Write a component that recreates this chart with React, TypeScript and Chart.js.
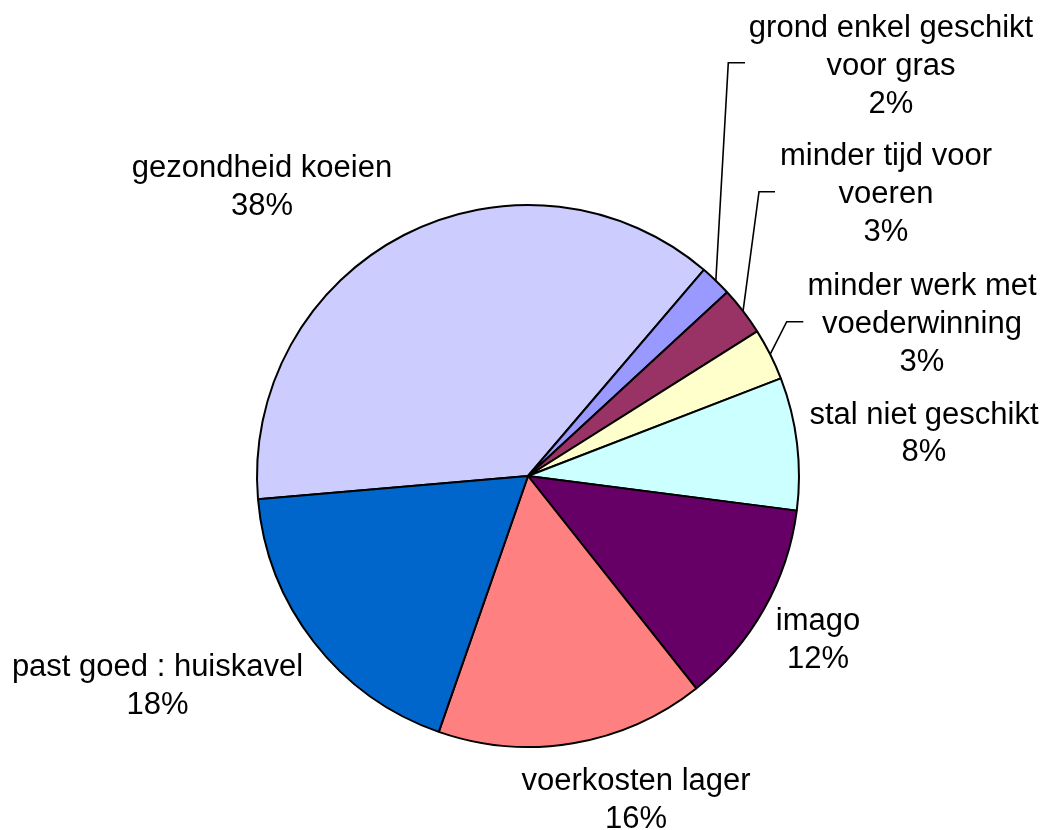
import React, { useEffect, useRef } from "react";
import { Chart, registerables } from "chart.js";

Chart.register(...registerables);

const categories: string[][] = [
  ["gezondheid koeien"],
  ["grond enkel geschikt", "voor gras"],
  ["minder tijd voor", "voeren"],
  ["minder werk met", "voederwinning"],
  ["stal niet geschikt"],
  ["imago"],
  ["voerkosten lager"],
  ["past goed : huiskavel"],
];
const values: number[] = [37.6, 1.9, 2.9, 3.1, 7.9, 12.3, 16.0, 18.3];
const colors: string[] = [
  "#CCCCFF",
  "#9999FF",
  "#993366",
  "#FFFFCC",
  "#CCFFFF",
  "#660066",
  "#FF8080",
  "#0066CC",
];

// label layout: centre x and first baseline, as offsets from the pie centre
const labelPos: { dx: number; dy: number }[] = [
  { dx: -266, dy: -299 },
  { dx: 363, dy: -439 },
  { dx: 358, dy: -311 },
  { dx: 394, dy: -181 },
  { dx: 396, dy: -52.5 },
  { dx: 290, dy: 154 },
  { dx: 108, dy: 314 },
  { dx: -370.5, dy: 200 },
];
// leader lines: elbow point and horizontal end, offsets from the pie centre
const leaders: ({ ex: number; ey: number; hx: number } | null)[] = [
  null,
  { ex: 200.3, ey: -413.3, hx: 217 },
  { ex: 231, ey: -284.3, hx: 247 },
  { ex: 258.7, ey: -154.3, hx: 275.3 },
  null,
  null,
  null,
  null,
];

const FONT = "31px 'Liberation Sans', Arial, sans-serif";
const LINE_H = 37.8;

const labelPlugin = {
  id: "pieLabels",
  afterDraw(chart: any) {
    const ctx = chart.ctx;
    const meta = chart.getDatasetMeta(0);
    const data = chart.data.datasets[0].data as number[];
    const total = data.reduce((a, b) => a + b, 0);
    ctx.save();
    meta.data.forEach((arc: any, i: number) => {
      const { x, y, startAngle, endAngle, outerRadius } = arc.getProps(
        ["x", "y", "startAngle", "endAngle", "outerRadius"],
        true
      );
      const lead = leaders[i];
      if (lead) {
        const mid = (startAngle + endAngle) / 2;
        const sx = x + Math.cos(mid) * outerRadius;
        const sy = y + Math.sin(mid) * outerRadius;
        ctx.beginPath();
        ctx.strokeStyle = "#000";
        ctx.lineWidth = 1.6;
        ctx.moveTo(sx, sy);
        ctx.lineTo(x + lead.ex, y + lead.ey);
        ctx.lineTo(x + lead.hx, y + lead.ey);
        ctx.stroke();
      }
      const pct = Math.round((data[i] / total) * 100) + "%";
      const lines = [...categories[i], pct];
      const p = labelPos[i];
      ctx.font = FONT;
      ctx.fillStyle = "#000";
      ctx.textAlign = "center";
      ctx.textBaseline = "alphabetic";
      lines.forEach((t, k) => {
        ctx.fillText(t, x + p.dx, y + p.dy + k * LINE_H);
      });
    });
    ctx.restore();
  },
};

export default function App() {
  const ref = useRef<HTMLCanvasElement | null>(null);
  useEffect(() => {
    if (!ref.current) return;
    const chart = new Chart(ref.current, {
      type: "pie",
      data: {
        labels: categories.map((c) => c.join(" ")),
        datasets: [
          {
            data: values,
            backgroundColor: colors,
            borderColor: "#000",
            borderWidth: 2,
          },
        ],
      },
      options: {
        responsive: false,
        animation: false,
        rotation: 265.1,
        layout: { padding: { left: 228, right: 217, top: 204, bottom: 82 } },
        plugins: {
          legend: { display: false },
          tooltip: { enabled: false },
        },
      },
      plugins: [labelPlugin],
    });
    return () => chart.destroy();
  }, []);
  return (
    <div style={{ position: "fixed", left: 0, top: 0, width: 1045, height: 830, background: "#fff" }}>
      <canvas ref={ref} width={1045} height={830} style={{ display: "block" }} />
    </div>
  );
}
